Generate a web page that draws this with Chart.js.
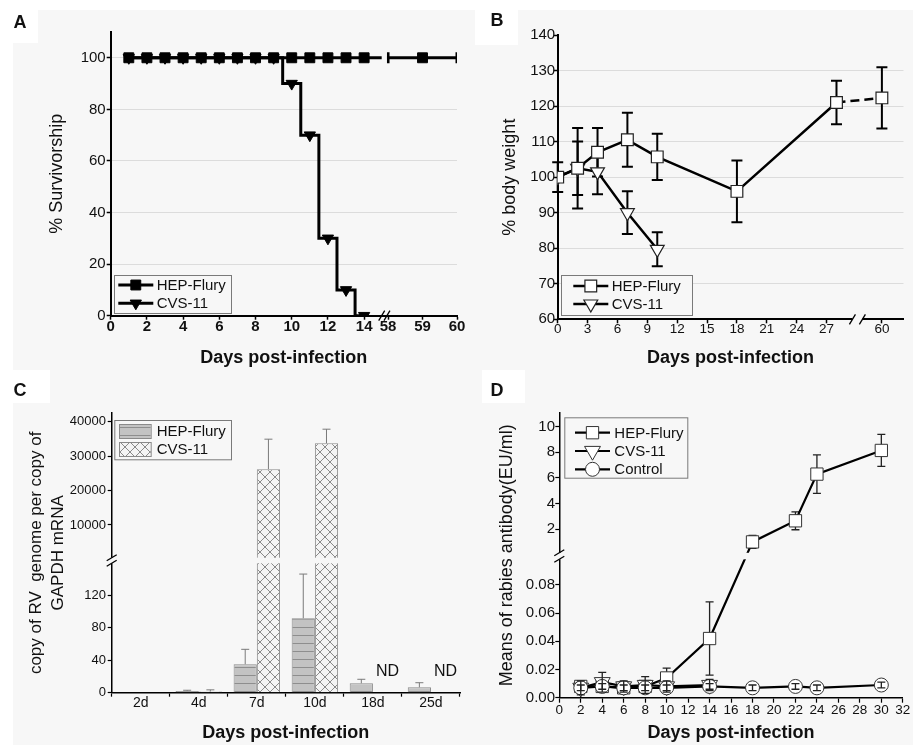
<!DOCTYPE html>
<html>
<head>
<meta charset="utf-8">
<script src="https://cdn.jsdelivr.net/npm/chart.js@4.4.1/dist/chart.umd.min.js"></script>
<style>
  body { margin: 0; background: #fff; }
  #fig { position: relative; width: 913px; height: 745px; overflow: hidden; }
  #bg { position: absolute; left: 13px; top: 10px; right: 0; bottom: 0; background: #f7f7f7; }
  canvas { position: absolute; }
  .box { position: absolute; background: #fff; }
  .tag { position: absolute; width: 40px; text-align: center; font: bold 18px/18px "Liberation Sans", Arial, sans-serif; color: #111; }
</style>
</head>
<body>
<div id="fig">
  <div id="bg"></div>
  <div class="box" style="left:0;top:0;width:38px;height:43px"></div>
  <div class="box" style="left:475px;top:10px;width:43px;height:35px"></div>
  <div class="box" style="left:0;top:370px;width:50px;height:33px"></div>
  <div class="box" style="left:482px;top:370px;width:43px;height:33px"></div>
  <canvas id="chartA" width="472" height="372" style="left:0;top:0"></canvas>
  <canvas id="chartB" width="458" height="372" style="left:455px;top:0"></canvas>
  <canvas id="chartC" width="472" height="373" style="left:0;top:372px"></canvas>
  <canvas id="chartD" width="458" height="373" style="left:455px;top:372px"></canvas>
  <div class="tag" style="left:0;top:13px">A</div>
  <div class="tag" style="left:477px;top:11px">B</div>
  <div class="tag" style="left:0;top:381px">C</div>
  <div class="tag" style="left:477px;top:381px">D</div>
</div>
<script>
Chart.defaults.font.family = '"Liberation Sans", Arial, sans-serif';
Chart.defaults.color = '#111';
const BG = '#f7f7f7';

// A: survival
const daysA = [1, 2, 3, 4, 5, 6, 7, 8, 9, 10, 11, 12, 13, 14, 58, 59, 60];
const hepSurvival = [100, 100, 100, 100, 100, 100, 100, 100, 100, 100, 100, 100, 100, 100, 100, 100, 100];
const cvsSurvival = [100, 100, 100, 100, 100, 100, 100, 100, 100, 90, 70, 30, 10, 0, null, null, null];
const tickDaysA = [0, 2, 4, 6, 8, 10, 12, 14, 58, 59, 60];

// B: body weight
const daysHepB = [0, 2, 4, 7, 10, 18, 28, 60];
const hepWeight = [100, 102.5, 107, 110.5, 105.7, 96, 121, 122.3];
const hepWeightErr = [4.2, 7.5, 6.8, 7.6, 6.5, 8.7, 6.1, 8.6];
const daysCvsB = [0, 2, 4, 7, 10];
const cvsWeight = [100, 102.5, 101.5, 90, 79.7];
const cvsWeightErr = [0, 11.3, 6.3, 6, 4.8];
const tickDaysB = [0, 3, 6, 9, 12, 15, 18, 21, 24, 27, 60];

// C: viral genome copies
const daysC = ['2d', '4d', '7d', '10d', '18d', '25d'];
const hepCopies = [0, 2, 35, 91.5, 11.5, 6.6];
const hepCopiesErr = [0, 1, 18.4, 54.5, 5, 5.7];
const cvsCopies = [0, 1.5, 26200, 33700, null, null];
const cvsCopiesErr = [0, 2, 8700, 4100, null, null];
const ticksLowC = [0, 40, 80, 120];
const ticksHighC = [10000, 20000, 30000, 40000];

// D: antibody
const daysD = [2, 4, 6, 8, 10, 14, 18, 22, 24, 30];
const hepAb = [0.008, 0.008, 0.007, 0.008, 0.014, 0.042, 1.0, 2.65, 6.3, 8.15];
const hepAbErr = [0.002, 0.002, 0.002, 0.002, 0.007, 0.026, 0.5, 0.7, 1.5, 1.25];
const daysCvsD = [2, 4, 6, 8, 10, 14];
const cvsAb = [0.007, 0.011, 0.008, 0.009, 0.008, 0.009];
const cvsAbErr = [0.005, 0.007, 0.004, 0.006, 0.004, 0.004];
const ctrlAb = [0.007, 0.008, 0.007, 0.007, 0.007, 0.008, 0.007, 0.008, 0.007, 0.009];
const ctrlAbErr = [0.002, 0.002, 0.002, 0.002, 0.002, 0.002, 0.002, 0.002, 0.002, 0.002];
const ticksLowD = [0, 0.02, 0.04, 0.06, 0.08];
const ticksHighD = [2, 4, 6, 8, 10];

// broken axes: values are moved onto a continuous display scale
const xA = d => d <= 14 ? d : 15.32 + (d - 58) * 1.905;
const xB = d => d <= 28 ? d : d - 27.44;
const same = v => v;
function brokenAxis(lowMax, lowLen, gap, highMax, highLen) {
  return v => v <= lowMax ? v / lowMax * lowLen : lowLen + gap + v / highMax * highLen;
}
const yC = brokenAxis(160, 130, 3.3, 42500, 146.4);
const yD = brokenAxis(0.1, 141, 2.1, 11.1, 142.1);

const points = (xs, ys, fx, fy) => xs.map((x, i) => ({ x: fx(x), y: ys[i] == null ? null : fy(ys[i]) }));
const errHi = (ys, es, fy) => ys.map((v, i) => v == null ? null : fy(v + es[i]));
const errLo = (ys, es, fy) => ys.map((v, i) => v == null ? null : fy(v - es[i]));

function drawMarker(ctx, ds, x, y) {
  const pick = v => Array.isArray(v) ? v[0] : v;
  const style = pick(ds.pointStyle), r = pick(ds.pointRadius), rot = pick(ds.pointRotation) || 0;
  ctx.fillStyle = pick(ds.pointBackgroundColor);
  ctx.strokeStyle = pick(ds.pointBorderColor);
  ctx.lineWidth = pick(ds.pointBorderWidth);
  ctx.beginPath();
  if (style === 'circle') {
    ctx.arc(x, y, r, 0, 2 * Math.PI);
  } else if (style === 'rect') {
    const s = r * Math.SQRT1_2;
    ctx.rect(x - s, y - s, 2 * s, 2 * s);
  } else {
    for (let k = 0; k < 3; k++) {
      const t = rot * Math.PI / 180 + k * 2 * Math.PI / 3;
      ctx.lineTo(x + Math.sin(t) * r, y - Math.cos(t) * r);
    }
    ctx.closePath();
  }
  ctx.fill();
  ctx.stroke();
}

function errorBars(cfg) {
  function draw(chart, onTop) {
    const ctx = chart.ctx;
    chart.data.datasets.forEach((ds, di) => {
      if (!ds.errHi || !!ds.errOnTop !== onTop) return;
      const meta = chart.getDatasetMeta(di);
      const ys = chart.scales[meta.yAxisID];
      ctx.save();
      ctx.strokeStyle = cfg.color;
      ctx.lineWidth = cfg.width;
      meta.data.forEach((el, i) => {
        const hi = ds.errHi[i], lo = ds.errLo[i];
        if (hi == null || hi === lo) return;
        const top = ys.getPixelForValue(hi), bot = ys.getPixelForValue(lo);
        ctx.beginPath();
        ctx.moveTo(el.x, bot); ctx.lineTo(el.x, top);
        ctx.moveTo(el.x - cfg.cap, top); ctx.lineTo(el.x + cfg.cap, top);
        if (!cfg.upOnly) { ctx.moveTo(el.x - cfg.cap, bot); ctx.lineTo(el.x + cfg.cap, bot); }
        ctx.stroke();
      });
      ctx.restore();
    });
  }
  return {
    id: 'errorBars',
    beforeDatasetsDraw(chart) { draw(chart, false); },
    afterDatasetsDraw(chart) { draw(chart, true); }
  };
}

function axisBreaks(list) {
  return {
    id: 'axisBreaks',
    afterDatasetsDraw(chart) {
      const { ctx, chartArea: a, scales } = chart;
      ctx.save();
      ctx.strokeStyle = '#000';
      ctx.lineWidth = 1.3;
      list.forEach(b => {
        ctx.fillStyle = BG;
        if (b.axis === 'x') {
          const x0 = scales.x.getPixelForValue(b.from), x1 = scales.x.getPixelForValue(b.to);
          if (b.band) {
            const t = scales.y.getPixelForValue(b.band[1]), btm = scales.y.getPixelForValue(b.band[0]);
            ctx.fillRect(x0, t, x1 - x0, btm - t);
          } else {
            ctx.fillRect(x0, a.bottom - 3, x1 - x0, 6);
          }
          [x0, x1].forEach(x => {
            ctx.beginPath(); ctx.moveTo(x - 3, a.bottom + 5); ctx.lineTo(x + 3, a.bottom - 5); ctx.stroke();
          });
        } else {
          const y0 = scales.y.getPixelForValue(b.from), y1 = scales.y.getPixelForValue(b.to);
          ctx.fillRect(a.left - 4, y1, a.right - a.left + 4, y0 - y1);
          [y0, y1].forEach(y => {
            ctx.beginPath(); ctx.moveTo(a.left - 5, y + 3); ctx.lineTo(a.left + 5, y - 3); ctx.stroke();
          });
        }
      });
      ctx.restore();
    }
  };
}

function boxLegend(cfg) {
  return {
    id: 'boxLegend',
    afterDraw(chart) {
      const ctx = chart.ctx;
      ctx.save();
      ctx.fillStyle = BG;
      ctx.fillRect(cfg.x, cfg.y, cfg.w, cfg.h);
      ctx.strokeStyle = '#7a7a7a';
      ctx.lineWidth = 1;
      ctx.strokeRect(cfg.x + 0.5, cfg.y + 0.5, cfg.w, cfg.h);
      chart.data.datasets.forEach((ds, i) => {
        const y = cfg.y + cfg.first + i * cfg.row;
        if (cfg.swatch) {
          ctx.fillStyle = ds.backgroundColor;
          ctx.strokeStyle = ds.borderColor;
          ctx.lineWidth = 1;
          ctx.fillRect(cfg.x + cfg.line[0], y - 7, cfg.line[1] - cfg.line[0], 14);
          ctx.strokeRect(cfg.x + cfg.line[0] + 0.5, y - 6.5, cfg.line[1] - cfg.line[0], 14);
        } else {
          ctx.strokeStyle = ds.borderColor;
          ctx.lineWidth = ds.borderWidth;
          ctx.beginPath();
          ctx.moveTo(cfg.x + cfg.line[0], y); ctx.lineTo(cfg.x + cfg.line[1], y);
          ctx.stroke();
          drawMarker(ctx, ds, cfg.x + (cfg.line[0] + cfg.line[1]) / 2, y);
        }
        ctx.fillStyle = '#111';
        ctx.font = '15px "Liberation Sans", Arial, sans-serif';
        ctx.textBaseline = 'middle';
        ctx.fillText(ds.label, cfg.x + cfg.text, y + 1);
      });
      ctx.restore();
    }
  };
}

const ndLabels = {
  id: 'ndLabels',
  afterDatasetsDraw(chart) {
    const ctx = chart.ctx, meta = chart.getDatasetMeta(1);
    const base = chart.scales.y.getPixelForValue(0);
    ctx.save();
    ctx.fillStyle = '#111';
    ctx.font = '16px "Liberation Sans", Arial, sans-serif';
    ctx.textAlign = 'center';
    ctx.textBaseline = 'middle';
    chart.data.datasets[1].data.forEach((v, i) => {
      if (v === null) ctx.fillText('ND', meta.data[i].x + 3, base - 21);
    });
    ctx.restore();
  }
};

const titleFont = { size: 18 };
const boldTitle = { size: 18, weight: 'bold' };
const noHover = { legend: { display: false }, tooltip: { enabled: false } };

// ---------- A ----------
new Chart(document.getElementById('chartA'), {
  type: 'line',
  data: {
    datasets: [
      {
        label: 'HEP-Flury',
        data: points(daysA, hepSurvival, xA, same),
        borderColor: '#000',
        borderWidth: 3,
        pointStyle: daysA.map(d => d === 58 || d === 60 ? 'line' : 'rect'),
        pointRotation: daysA.map(d => d === 58 || d === 60 ? 90 : 0),
        pointRadius: daysA.map(d => d === 58 || d === 60 ? 5.5 : 7),
        pointBorderWidth: daysA.map(d => d === 58 || d === 60 ? 3 : 1),
        pointBackgroundColor: '#000',
        pointBorderColor: '#000'
      },
      {
        label: 'CVS-11',
        data: points(daysA, cvsSurvival, xA, same),
        stepped: 'middle',
        borderColor: '#000',
        borderWidth: 3,
        pointStyle: 'triangle',
        pointRotation: 180,
        pointRadius: 6.5,
        pointBorderWidth: 1,
        pointBackgroundColor: '#000',
        pointBorderColor: '#000'
      }
    ]
  },
  options: {
    responsive: false,
    animation: false,
    layout: { padding: { top: 32, right: 15, left: 0, bottom: 0 } },
    scales: {
      x: {
        type: 'linear', min: 0, max: xA(60),
        afterFit: s => { s.height = 56.3; },
        afterBuildTicks: s => { s.ticks = tickDaysA.map(d => ({ value: xA(d) })); },
        ticks: { autoSkip: false, maxRotation: 0, padding: -2, font: { size: 15, weight: 'bold' }, callback: (v, i) => tickDaysA[i] },
        grid: { drawOnChartArea: false, tickLength: 4, tickColor: '#000', tickWidth: 1.5 },
        border: { color: '#000', width: 2 },
        title: { display: true, text: 'Days post-infection', font: boldTitle, padding: { top: 0, bottom: 3 } }
      },
      y: {
        min: 0, max: 110,
        afterFit: s => { s.width = 110.7; },
        afterBuildTicks: s => { s.ticks = s.ticks.filter(t => t.value <= 100); },
        ticks: { stepSize: 20, padding: 1, font: { size: 15 } },
        grid: { color: '#dcdcdc', tickLength: 4, tickColor: '#000', tickWidth: 1.5 },
        border: { color: '#000', width: 2 },
        title: { display: true, text: '% Survivorship', font: titleFont, padding: { top: 46, bottom: 0 } }
      }
    },
    plugins: noHover
  },
  plugins: [
    axisBreaks([{ axis: 'x', from: 14.97, to: 15.26, band: [95, 105] }]),
    boxLegend({ x: 114, y: 275, w: 117, h: 38, first: 10, row: 18.3, line: [4.3, 39.3], text: 42.7 })
  ]
});

// ---------- B ----------
new Chart(document.getElementById('chartB'), {
  type: 'line',
  data: {
    datasets: [
      {
        label: 'HEP-Flury',
        data: points(daysHepB, hepWeight, xB, same),
        errHi: errHi(hepWeight, hepWeightErr, same),
        errLo: errLo(hepWeight, hepWeightErr, same),
        borderColor: '#000',
        borderWidth: 2.5,
        segment: { borderDash: c => c.p1DataIndex === daysHepB.length - 1 ? [9, 5] : undefined },
        pointStyle: 'rect',
        pointRadius: 8.3,
        pointBorderWidth: 1.2,
        pointBackgroundColor: '#fff',
        pointBorderColor: '#222'
      },
      {
        label: 'CVS-11',
        data: points(daysCvsB, cvsWeight, xB, same),
        errHi: errHi(cvsWeight, cvsWeightErr, same),
        errLo: errLo(cvsWeight, cvsWeightErr, same),
        borderColor: '#000',
        borderWidth: 2.5,
        pointStyle: 'triangle',
        pointRotation: 180,
        pointRadius: 8,
        pointBorderWidth: 1.2,
        pointBackgroundColor: '#fff',
        pointBorderColor: '#222'
      }
    ]
  },
  options: {
    responsive: false,
    animation: false,
    layout: { padding: { top: 35, right: 8, left: 0, bottom: 0 } },
    scales: {
      x: {
        type: 'linear', min: 0, max: 34.73,
        afterFit: s => { s.height = 52.7; },
        afterBuildTicks: s => { s.ticks = tickDaysB.map(d => ({ value: xB(d) })); },
        ticks: { autoSkip: false, maxRotation: 0, padding: -1.7, font: { size: 13.5 }, callback: (v, i) => tickDaysB[i] },
        grid: { drawOnChartArea: false, tickLength: 4, tickColor: '#000', tickWidth: 1.5 },
        border: { color: '#000', width: 2 },
        title: { display: true, text: 'Days post-infection', font: boldTitle, padding: { top: 0, bottom: 3 } }
      },
      y: {
        min: 60, max: 140,
        afterFit: s => { s.width = 102.7; },
        ticks: { stepSize: 10, padding: -1.5, font: { size: 15 } },
        grid: { color: c => c.tick.value === 140 ? 'rgba(0,0,0,0)' : '#dcdcdc', tickLength: 4, tickColor: '#000', tickWidth: 1.5 },
        border: { color: '#000', width: 2 },
        title: { display: true, text: '% body weight', font: titleFont, padding: { top: 44.2, bottom: 0 } }
      }
    },
    plugins: noHover
  },
  plugins: [
    errorBars({ color: '#000', width: 2, cap: 5.5 }),
    axisBreaks([{ axis: 'x', from: 29.6, to: 30.6 }]),
    boxLegend({ x: 106, y: 275, w: 131, h: 40, first: 11, row: 18, line: [12.3, 47.3], text: 50.7 })
  ]
});

// ---------- C ----------
const ctxC = document.getElementById('chartC').getContext('2d');
const hatchHep = (() => {
  const c = document.createElement('canvas');
  c.width = 8; c.height = 8;
  const g = c.getContext('2d');
  g.fillStyle = '#c3c3c3'; g.fillRect(0, 0, 8, 8);
  g.fillStyle = '#8e8e8e'; g.fillRect(0, 7, 8, 1);
  return ctxC.createPattern(c, 'repeat');
})();
const hatchCvs = (() => {
  const c = document.createElement('canvas');
  c.width = 10; c.height = 10;
  const g = c.getContext('2d');
  g.fillStyle = '#f4f4f4'; g.fillRect(0, 0, 10, 10);
  g.strokeStyle = '#8a8a8a'; g.lineWidth = 1;
  g.beginPath(); g.moveTo(0, 0); g.lineTo(10, 10); g.moveTo(10, 0); g.lineTo(0, 10); g.stroke();
  return ctxC.createPattern(c, 'repeat');
})();
const ticksC = ticksLowC.concat(ticksHighC);

new Chart(ctxC, {
  type: 'bar',
  data: {
    labels: daysC,
    datasets: [
      {
        label: 'HEP-Flury',
        data: hepCopies.map(yC),
        errHi: errHi(hepCopies, hepCopiesErr, yC),
        errLo: hepCopies.map(v => v == null ? null : yC(v)),
        backgroundColor: hatchHep,
        borderColor: '#8a8a8a',
        borderWidth: 1
      },
      {
        label: 'CVS-11',
        data: cvsCopies.map(v => v == null ? null : yC(v)),
        errHi: errHi(cvsCopies, cvsCopiesErr, yC),
        errLo: cvsCopies.map(v => v == null ? null : yC(v)),
        backgroundColor: hatchCvs,
        borderColor: '#8a8a8a',
        borderWidth: 1
      }
    ]
  },
  options: {
    responsive: false,
    animation: false,
    categoryPercentage: 0.8,
    barPercentage: 1.0,
    layout: { padding: { top: 41, right: 12, left: 0, bottom: 0 } },
    scales: {
      x: {
        afterFit: s => { s.height = 52.3; },
        ticks: { maxRotation: 0, padding: -1.8, font: { size: 14 } },
        grid: { drawOnChartArea: false, tickLength: 4, tickColor: '#000', tickWidth: 1.2 },
        border: { color: '#000', width: 1.5 },
        title: { display: true, text: 'Days post-infection', font: boldTitle, padding: { top: 0, bottom: 0.9 } }
      },
      y: {
        min: 0, max: 279.7,
        afterFit: s => { s.width = 111.7; },
        afterBuildTicks: s => { s.ticks = ticksC.map(v => ({ value: yC(v) })); },
        ticks: { autoSkip: false, padding: 1.7, font: { size: 13 }, callback: (v, i) => ticksC[i] },
        grid: { drawOnChartArea: false, tickLength: 4, tickColor: '#000', tickWidth: 1.2 },
        border: { color: '#000', width: 1.5 },
        title: {
          display: true,
          text: ['copy of RV  genome per copy of', 'GAPDH mRNA'],
          font: { size: 17, lineHeight: 1.27 },
          padding: { top: 25.9, bottom: 0 }
        }
      }
    },
    plugins: noHover
  },
  plugins: [
    errorBars({ color: '#7a7a7a', width: 1, cap: 4, upOnly: true }),
    ndLabels,
    axisBreaks([{ axis: 'y', from: 129.4, to: 135 }]),
    boxLegend({ x: 114.3, y: 48, w: 116.7, h: 39.3, first: 11, row: 18, line: [4.7, 36.4], text: 42.4, swatch: true })
  ]
});

// ---------- D ----------
const ticksD = ticksLowD.concat(ticksHighD);
new Chart(document.getElementById('chartD'), {
  type: 'line',
  data: {
    datasets: [
      {
        label: 'HEP-Flury',
        order: 2,
        data: points(daysD, hepAb, same, yD),
        errHi: errHi(hepAb, hepAbErr, yD),
        errLo: errLo(hepAb, hepAbErr, yD),
        borderColor: '#000',
        borderWidth: 2.2,
        pointStyle: 'rect',
        pointRadius: 8.7,
        pointBorderWidth: 1,
        pointBackgroundColor: '#fff',
        pointBorderColor: '#333'
      },
      {
        label: 'CVS-11',
        order: 1,
        data: points(daysCvsD, cvsAb, same, yD),
        errHi: errHi(cvsAb, cvsAbErr, yD),
        errLo: errLo(cvsAb, cvsAbErr, yD),
        errOnTop: true,
        borderColor: '#000',
        borderWidth: 2.2,
        pointStyle: 'triangle',
        pointRotation: 180,
        pointRadius: 9.2,
        pointBorderWidth: 1,
        pointBackgroundColor: '#fff',
        pointBorderColor: '#333'
      },
      {
        label: 'Control',
        order: 0,
        data: points(daysD, ctrlAb, same, yD),
        errHi: errHi(ctrlAb, ctrlAbErr, yD),
        errLo: errLo(ctrlAb, ctrlAbErr, yD),
        errOnTop: true,
        borderColor: '#000',
        borderWidth: 2.2,
        pointStyle: 'circle',
        pointRadius: 7,
        pointBorderWidth: 1,
        pointBackgroundColor: '#fff',
        pointBorderColor: '#333'
      }
    ]
  },
  options: {
    responsive: false,
    animation: false,
    layout: { padding: { top: 40.7, right: 8, left: 0, bottom: 0 } },
    scales: {
      x: {
        type: 'linear', min: 0, max: 32,
        afterFit: s => { s.height = 47.3; },
        ticks: { stepSize: 2, autoSkip: false, maxRotation: 0, padding: -1, font: { size: 13.5 } },
        grid: { drawOnChartArea: false, tickLength: 5, tickColor: '#000', tickWidth: 1.2 },
        border: { color: '#000', width: 1.5 },
        title: { display: true, text: 'Days post-infection', font: boldTitle, padding: { top: 0, bottom: 0.9 } }
      },
      y: {
        min: 0, max: 285.2,
        afterFit: s => { s.width = 104.3; },
        afterBuildTicks: s => { s.ticks = ticksD.map(v => ({ value: yD(v) })); },
        ticks: { autoSkip: false, padding: 0.3, font: { size: 15 }, callback: (v, i) => i < ticksLowD.length ? ticksD[i].toFixed(2) : ticksD[i] },
        grid: { drawOnChartArea: false, tickLength: 4, tickColor: '#000', tickWidth: 1.2 },
        border: { color: '#000', width: 1.5 },
        title: { display: true, text: 'Means of rabies antibody(EU/ml)', font: titleFont, padding: { top: 40.9, bottom: 0 } }
      }
    },
    plugins: noHover
  },
  plugins: [
    errorBars({ color: '#222', width: 1.3, cap: 4 }),
    axisBreaks([{ axis: 'y', from: 138.5, to: 145 }]),
    boxLegend({ x: 109.3, y: 45.3, w: 123, h: 60.4, first: 15.4, row: 18.3, line: [10.7, 45.7], text: 50 })
  ]
});
</script>
</body>
</html>
